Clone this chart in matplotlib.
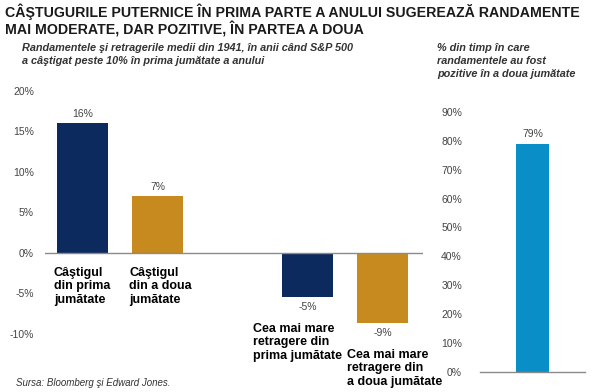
import matplotlib
matplotlib.use("Agg")
import matplotlib.pyplot as plt
from matplotlib.ticker import FuncFormatter

plt.rcParams['font.family'] = ['Liberation Sans', 'DejaVu Sans']

# date grafic stanga
pozitii = [0, 1, 3, 4]
valori = [16.0, 7.0, -5.4, -8.6]
etichete_valori = ['16%', '7%', '-5%', '-9%']
categorii = ['Câştigul\ndin prima\njumătate',
             'Câştigul\ndin a doua\njumătate',
             'Cea mai mare\nretragere din\nprima jumătate',
             'Cea mai mare\nretragere din\na doua jumătate']
culori = ['#0c2a5e', '#c68a1f', '#0c2a5e', '#c68a1f']

# date grafic dreapta
procent_pozitiv = [79.0]
eticheta_pozitiv = ['79%']
culoare_dreapta = '#0a8ec8'

W, H = 600, 392
fig = plt.figure(figsize=(W / 100, H / 100), dpi=100)


def zona(x0, y0, x1, y1):
    # pixeli (sus-stanga) -> fractiuni figura
    return [x0 / W, 1 - y1 / H, (x1 - x0) / W, (y1 - y0) / H]


fmt = FuncFormatter(lambda v, p: f'{v:.0f}%')
gri = '#444444'

# ---- stanga
ax = fig.add_axes(zona(45, 85, 423, 385))
latime = 0.68
ax.bar(pozitii, valori, width=latime, color=culori, zorder=2)
ax.set_xlim(-0.5, 4.54)
ax.set_ylim(-16.3, 20.74)
ax.set_yticks([-10, -5, 0, 5, 10, 15, 20])
ax.yaxis.set_major_formatter(fmt)
ax.tick_params(axis='y', length=0, pad=8, labelsize=7.5, labelcolor=gri)
ax.set_xticks([])
for s in ax.spines.values():
    s.set_visible(False)
ax.axhline(0, color='#8a8a8a', lw=1, zorder=3)

# decalaj orizontal al etichetelor fata de marginea barei (unitati axa)
decalaj = [-0.04, -0.04, -0.39, -0.13]
for x, v, et, cat, d in zip(pozitii, valori, etichete_valori, categorii, decalaj):
    if v >= 0:
        ax.annotate(et, (x, v), xytext=(0, 3), textcoords='offset points',
                    ha='center', va='bottom', fontsize=7.5, color=gri)
        ax.annotate(cat, (x - latime / 2 + d, 0), xytext=(0, -10),
                    textcoords='offset points', ha='left', va='top',
                    fontsize=9, fontweight='bold', linespacing=1.15)
    else:
        ax.annotate(et, (x, v), xytext=(0, -4), textcoords='offset points',
                    ha='center', va='top', fontsize=7.5, color=gri)
        ax.annotate(cat, (x - latime / 2 + d, v), xytext=(0, -19),
                    textcoords='offset points', ha='left', va='top',
                    fontsize=9, fontweight='bold', linespacing=1.15)

# ---- dreapta
ax2 = fig.add_axes(zona(480, 100, 585, 372))
ax2.bar([0], procent_pozitiv, width=0.5, color=culoare_dreapta, zorder=2)
ax2.set_xlim(-0.8, 0.8)
ax2.set_ylim(0, 94.1)
ax2.set_yticks(range(0, 100, 10))
ax2.yaxis.set_major_formatter(fmt)
ax2.tick_params(axis='y', length=0, pad=13, labelsize=7.5, labelcolor=gri)
ax2.set_xticks([])
for s in ax2.spines.values():
    s.set_visible(False)
ax2.axhline(0, color='#8a8a8a', lw=1, zorder=3, clip_on=False)
ax2.annotate(eticheta_pozitiv[0], (0, procent_pozitiv[0]), xytext=(0, 3),
             textcoords='offset points', ha='center', va='bottom',
             fontsize=7.5, color=gri)

# ---- texte
fig.text(5 / W, 1 - 3 / H,
         'CÂŞTUGURILE PUTERNICE ÎN PRIMA PARTE A ANULUI SUGEREAZĂ RANDAMENTE\n'
         'MAI MODERATE, DAR POZITIVE, ÎN PARTEA A DOUA',
         ha='left', va='top', fontsize=10.15, fontweight='bold', color='#1a1a1a',
         linespacing=1.15)
fig.text(22 / W, 1 - 43 / H,
         'Randamentele şi retragerile medii din 1941, în anii când S&P 500\n'
         'a câştigat peste 10% în prima jumătate a anului',
         ha='left', va='top', fontsize=7.8, fontweight='bold', style='italic',
         color='#333333', linespacing=1.35)
fig.text(437 / W, 1 - 43 / H,
         '% din timp în care\nrandamentele au fost\npozitive în a doua jumătate',
         ha='left', va='top', fontsize=7.8, fontweight='bold', style='italic',
         color='#333333', linespacing=1.35)
fig.text(16 / W, 1 - 386 / H, 'Sursa: Bloomberg şi Edward Jones.',
         ha='left', va='baseline', fontsize=7, style='italic', color='#333333')

fig.savefig('out.png', dpi=100)
